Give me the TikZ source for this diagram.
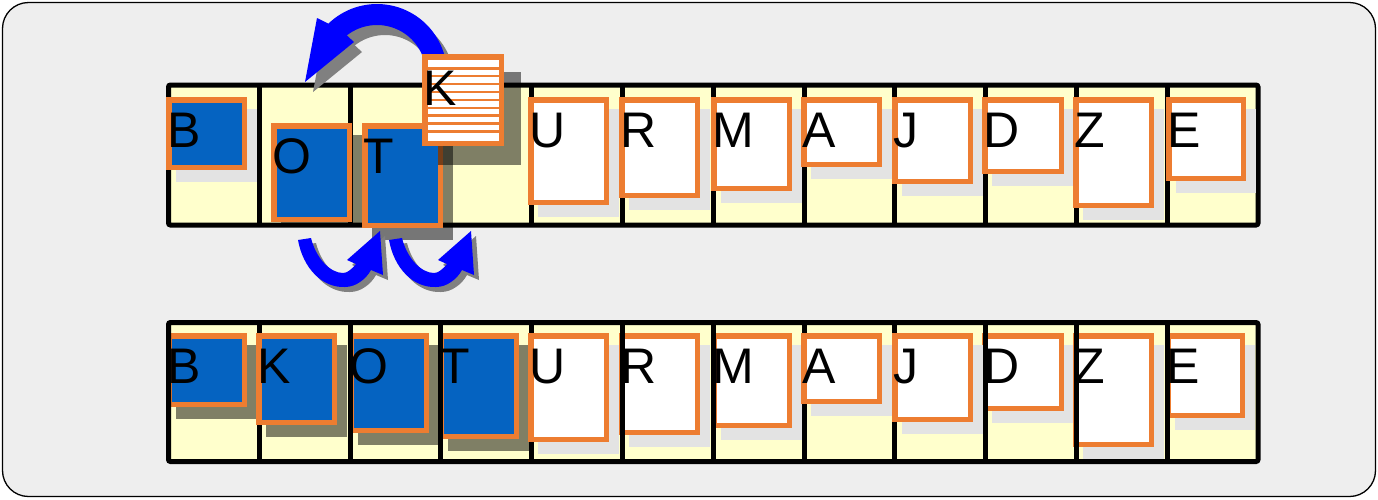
\documentclass[tikz,border=0pt]{standalone}
\usepackage{fontspec}
\newfontfamily\arialf{Liberation Sans}
\definecolor{panelbg}{HTML}{EEEEEE}
\definecolor{cellyel}{HTML}{FFFFCC}
\definecolor{cardblue}{HTML}{0563C1}
\definecolor{cardorange}{HTML}{ED7D31}
\definecolor{lightshadow}{HTML}{E3E3E3}
\definecolor{arrowblue}{HTML}{0000FF}
\definecolor{arrowshadow}{HTML}{808080}
\tikzset{
  cardline/.style={draw=cardorange, line width=5.5pt},
  lightsh/.style={fill=lightshadow},
  darksh/.style={fill=black, fill opacity=0.5},
  letter/.style={anchor=base west, inner sep=0pt, outer sep=0pt, font=\arialf\fontsize{50}{50}\selectfont, text=black},
  framebar/.style={draw=black, line width=5pt, rounded corners=2pt},
  divider/.style={draw=black, line width=5pt},
}
\newcommand\mkcard[8]{%
  \fill[#7] ({#2+10},{#3+12}) rectangle ++(#4,#5);
  \filldraw[cardline, fill=#6] ({#2+2.75},{#3+2.75}) rectangle ({#2+#4-2.75},{#3+#5-2.75});
  \node[letter] (#1) at ({#2+1.5},{#3+50}) {#8};
}
\begin{document}
\begin{tikzpicture}[x=1pt,y=-1pt]
\useasboundingbox (0,0) rectangle (1378,499);
% panel
\filldraw[fill=panelbg, draw=black, line width=1.3pt, rounded corners=26pt] (2.5,2.5) rectangle (1375.5,496.5);

% ===== top row =====
\fill[cellyel] (168.5,85) rectangle (1258,225);
\draw[framebar] (168.5,85) rectangle (1258,225);
\foreach \k in {1,...,11} \draw[divider] ({168.5+90.79*\k},85) -- ({168.5+90.79*\k},225);

\mkcard{tB}{166}{97}{81}{73}{cardblue}{lightsh}{B}
\fill[darksh] (281,135) rectangle (362,223);
\filldraw[cardline, fill=cardblue] (273.75,125.75) rectangle (349.25,219.25);
\node[letter] (tO) at (272.5,173) {O};
\mkcard{tT}{362}{123}{81}{105}{cardblue}{darksh}{T}
\mkcard{tU}{528}{97}{81}{108}{white}{lightsh}{U}
\mkcard{tR}{619}{97}{81}{101}{white}{lightsh}{R}
\mkcard{tM}{711}{97}{81}{94}{white}{lightsh}{M}
\mkcard{tA}{801}{97}{81}{70}{white}{lightsh}{A}
\mkcard{tJ}{892}{97}{81}{87}{white}{lightsh}{J}
\mkcard{tD}{982}{97}{82}{77}{white}{lightsh}{D}
\mkcard{tZ}{1073}{97}{81}{111}{white}{lightsh}{Z}
\mkcard{tE}{1166}{97}{80}{84}{white}{lightsh}{E}

% big arrow (shadow + arrow)
\foreach \dx/\dy/\col in {8/10/arrowshadow, 0/0/arrowblue}{
  \fill[\col, shift={(\dx,\dy)}] (305,82) -- (317,18)
    -- plot[domain=-134:-8, samples=40] ({377+70*cos(\x)},{74+70*sin(\x)})
    -- plot[domain=-8:-128, samples=40] ({377+49*cos(\x)},{74+49*sin(\x)})
    -- (354,42) -- cycle;
}

% lifted K card
\fill[darksh] (438,72) rectangle (521,165);
\filldraw[cardline, fill=white] (424.75,56.75) rectangle (501.25,143.25);
\foreach \s in {0,...,8} \fill[cardorange] (427.5,{67+7.9*\s}) rectangle (498.5,{69.5+7.9*\s});
\node[letter] (tK) at (423.5,105) {K};

% small arrows
\foreach \dx/\col in {5/arrowshadow, 0/arrowblue}{
  \foreach \ox in {0,91}{
    \fill[\col, shift={({\ox+\dx},\dx)}] (298,240) .. controls (303,268) and (322,288) .. (345,287)
      .. controls (356,287) and (366,279) .. (371,270) -- (383,275) -- (380,231) -- (347,260) -- (356,264)
      .. controls (351,270) and (347,273) .. (343,273) .. controls (330,273) and (316,258) .. (311,238) -- cycle;
  }
}

% ===== bottom row =====
\fill[cellyel] (168.5,322.5) rectangle (1258,461.5);
\mkcard{bB}{166}{333}{81}{74}{cardblue}{darksh}{B}
\mkcard{bO}{348}{333}{81}{100}{cardblue}{darksh}{O}
\mkcard{bT}{438}{333}{81}{106}{cardblue}{darksh}{T}
\mkcard{bR}{619}{333}{81}{102}{white}{lightsh}{R}
\mkcard{bM}{711}{333}{81}{95}{white}{lightsh}{M}
\mkcard{bD}{982}{333}{82}{78}{white}{lightsh}{D}
\mkcard{bZ}{1073}{333}{81}{114}{white}{lightsh}{Z}
\mkcard{bE}{1165}{333}{80}{85}{white}{lightsh}{E}
\draw[framebar] (168.5,322.5) rectangle (1258,461.5);
\foreach \k in {1,...,11} \draw[divider] ({168.5+90.79*\k},322.5) -- ({168.5+90.79*\k},461.5);
\mkcard{bK}{256}{333}{81}{92}{cardblue}{darksh}{K}
\mkcard{bU}{528}{333}{81}{109}{white}{lightsh}{U}
\mkcard{bA}{801}{333}{81}{71}{white}{lightsh}{A}
\mkcard{bJ}{892}{333}{81}{89}{white}{lightsh}{J}
\end{tikzpicture}
\end{document}
